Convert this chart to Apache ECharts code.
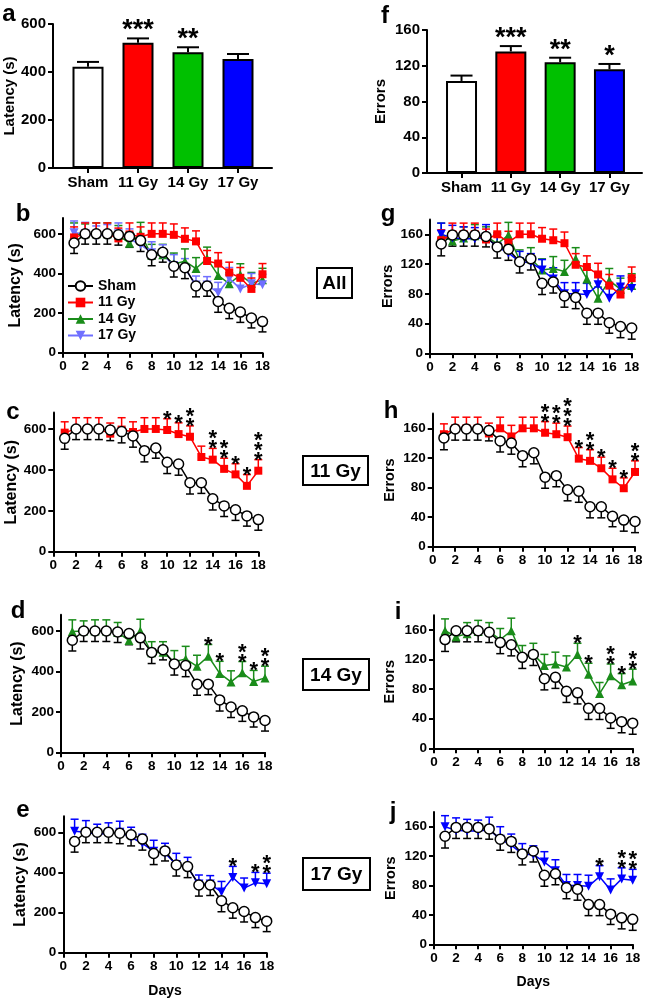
<!DOCTYPE html>
<html><head><meta charset="utf-8">
<script src="https://cdn.jsdelivr.net/npm/echarts@6/dist/echarts.min.js"></script>
<style>html,body{margin:0;padding:0;background:#fff}#c{width:660px;height:1002px}</style>
</head><body><div id="c"></div><script>
// ---------- DATA ----------
const groups = ['Sham', '11 Gy', '14 Gy', '17 Gy'];
const latencyTotal = [422, 522, 482, 454];
const latencyTotalSem = [20, 18, 21, 21];
const latencyTotalStars = ['', '***', '**', ''];
const errorsTotal = [103, 136, 124, 116];
const errorsTotalSem = [6, 6, 5, 6];
const errorsTotalStars = ['', '***', '**', '*'];

const days = [1, 2, 3, 4, 5, 6, 7, 8, 9, 10, 11, 12, 13, 14, 15, 16, 17, 18];
const latencyTicks = [0, 200, 400, 600];
const errorsTicks = [0, 40, 80, 120, 160];

const latSham = [554, 600, 600, 600, 595, 587, 566, 494, 507, 437, 429, 337, 337, 259, 224, 205, 175, 157];
const latShamSem = [53, 52, 52, 52, 52, 55, 55, 55, 50, 55, 55, 55, 52, 55, 52, 52, 50, 52];
const lat11 = [582, 600, 600, 600, 577, 597, 585, 600, 600, 595, 575, 562, 463, 450, 405, 378, 322, 396];
const lat11Sem = [53, 55, 55, 55, 52, 58, 50, 55, 55, 55, 55, 53, 53, 55, 52, 52, 55, 54];
const lat14 = [597, 600, 600, 600, 592, 553, 600, 492, 495, 448, 462, 425, 475, 390, 348, 393, 350, 368];
const lat14Sem = [58, 50, 55, 55, 50, 40, 58, 55, 52, 55, 62, 55, 58, 60, 55, 56, 55, 58];
const lat17 = [605, 600, 590, 595, 600, 575, 545, 505, 495, 440, 425, 342, 342, 303, 375, 322, 348, 343];
const lat17Sem = [60, 58, 50, 52, 55, 50, 45, 55, 50, 55, 50, 45, 42, 52, 55, 50, 52, 53];

const errSham = [147, 159, 159, 159, 157, 143, 140, 123, 127, 94, 96, 77, 75, 54, 54, 41, 36, 34];
const errShamSem = [16, 15, 15, 15, 14, 15, 15, 15, 15, 15, 15, 15, 15, 15, 15, 14, 15, 15];
const err11 = [152, 160, 160, 160, 153, 160, 149, 160, 160, 154, 152, 148, 119, 116, 106, 91, 79, 101];
const err11Sem = [14, 15, 15, 15, 14, 15, 15, 15, 15, 15, 15, 15, 15, 15, 15, 15, 14, 15];
const err14 = [159, 151, 155, 158, 158, 147, 159, 125, 127, 112, 114, 110, 127, 100, 74, 98, 86, 91];
const err14Sem = [16, 12, 15, 15, 12, 15, 17, 14, 15, 15, 16, 15, 15, 15, 15, 16, 15, 16];
const err17 = [160, 155, 154, 154, 156, 143, 135, 123, 122, 112, 100, 80, 80, 79, 92, 74, 89, 87];
const err17Sem = [15, 17, 16, 15, 17, 17, 15, 14, 12, 14, 15, 15, 15, 15, 15, 15, 15, 15];

const latStars11 = [0, 0, 0, 0, 0, 0, 0, 0, 0, 1, 1, 2, 0, 2, 2, 1, 1, 3];
const latStars14 = [0, 0, 0, 0, 0, 0, 0, 0, 0, 0, 0, 0, 1, 1, 0, 2, 1, 2];
const latStars17 = [0, 0, 0, 0, 0, 0, 0, 0, 0, 0, 0, 0, 0, 0, 1, 0, 1, 2];
const errStars11 = [0, 0, 0, 0, 0, 0, 0, 0, 0, 2, 2, 3, 1, 2, 1, 1, 1, 2];
const errStars14 = [0, 0, 0, 0, 0, 0, 0, 0, 0, 0, 0, 0, 1, 1, 0, 2, 1, 2];
const errStars17 = [0, 0, 0, 0, 0, 0, 0, 0, 0, 0, 0, 0, 0, 0, 1, 0, 2, 2];

// ---------- STYLE ----------
const FONT = 'Liberation Sans, Arial, Helvetica, sans-serif';
const barColors = ['#ffffff', '#ff0000', '#00c000', '#0000ff'];
const RED = '#ff0000', GREEN = '#1a8c1a', BLUE = '#0000ff', LBLUE = '#6f6fff';

const gridPos = [
  {left: 53, top: 24, width: 219, height: 144},      // 0 a
  {left: 427, top: 30, width: 215, height: 143},     // 1 f
  {left: 63, top: 218, width: 199.5, height: 134.7}, // 2 b
  {left: 430, top: 219.4, width: 201.7, height: 133.9}, // 3 g
  {left: 53.3, top: 412.6, width: 205, height: 139.1},  // 4 c
  {left: 432.7, top: 413.5, width: 202.3, height: 133.2}, // 5 h
  {left: 61, top: 614.8, width: 204, height: 137.5},  // 6 d
  {left: 434, top: 615.2, width: 198.7, height: 133.1}, // 7 i
  {left: 63.3, top: 816.2, width: 203.4, height: 136.5}, // 8 e
  {left: 434, top: 812, width: 198.7, height: 132.3}  // 9 j
];

const axLine = {show: true, onZero: false, lineStyle: {color: '#000', width: 2}};
const axTick = {show: true, length: 5, lineStyle: {color: '#000', width: 2}};
const lbl = (size) => ({color: '#000', fontWeight: 'bold', fontFamily: FONT, fontSize: size});

const grids = gridPos.map(g => Object.assign({containLabel: false, outerBoundsMode: 'none'}, g));
const xAxes = [], yAxes = [];
// bar panels
[0, 1].forEach(i => {
  xAxes.push({gridIndex: i, type: 'value', min: -0.7, max: i === 0 ? 3.68 : 3.66,
    axisLine: axLine, splitLine: {show: false},
    axisTick: Object.assign({}, axTick, {customValues: [0, 1, 2, 3]}),
    axisLabel: Object.assign(lbl(15), {customValues: [0, 1, 2, 3], margin: 7, formatter: v => groups[v]})});
  yAxes.push({gridIndex: i, type: 'value', min: 0, max: i === 0 ? 600 : 160, interval: i === 0 ? 200 : 40,
    name: i === 0 ? 'Latency (s)' : 'Errors', nameLocation: 'middle', nameGap: i === 0 ? 36 : 39,
    nameTextStyle: lbl(15), axisLine: axLine, axisTick: axTick, splitLine: {show: false},
    axisLabel: Object.assign(lbl(15), {margin: 7})});
});
// line panels
const nameGaps = {2: 39, 3: 35, 4: 33, 5: 35, 6: 35, 7: 37, 8: 35, 9: 36};
for (let i = 2; i < 10; i++) {
  const isLat = i % 2 === 0;
  const xa = {gridIndex: i, type: 'value', min: 0, max: 18, interval: 2,
    axisLine: axLine, axisTick: axTick, splitLine: {show: false},
    axisLabel: Object.assign(lbl(13.5), {margin: 7})};
  if (i >= 8) Object.assign(xa, {name: 'Days', nameLocation: 'middle', nameGap: 31, nameTextStyle: lbl(14)});
  xAxes.push(xa);
  const ticks = isLat ? latencyTicks : errorsTicks;
  yAxes.push({gridIndex: i, type: 'value', min: 0, max: isLat ? 680 : 180,
    name: isLat ? 'Latency (s)' : 'Errors', nameLocation: 'middle', nameGap: nameGaps[i],
    nameTextStyle: lbl(isLat ? 16 : 14.5), axisLine: axLine, splitLine: {show: false},
    axisTick: Object.assign({}, axTick, {customValues: ticks}),
    axisLabel: Object.assign(lbl(13.5), {margin: 7, customValues: ticks})});
}

const series = [];
// bar panels
function barPanel(gi, mean, sem, stars) {
  series.push({type: 'bar', name: 'bars' + gi, xAxisIndex: gi, yAxisIndex: gi, barWidth: 31,
    data: mean.map((v, k) => ({value: [k, v], itemStyle: {color: barColors[k], borderColor: '#000', borderWidth: 2}})),
    z: 2});
  series.push({type: 'custom', name: 'barerr' + gi, xAxisIndex: gi, yAxisIndex: gi, clip: false, z: 1,
    data: mean.map((v, k) => [k, v, sem[k]]),
    renderItem: (p, api) => {
      const a = api.coord([api.value(0), api.value(1)]);
      const b = api.coord([api.value(0), api.value(1) + api.value(2)]);
      const st = {stroke: '#000', lineWidth: 2};
      return {type: 'group', children: [
        {type: 'line', shape: {x1: a[0], y1: a[1], x2: b[0], y2: b[1]}, style: st},
        {type: 'line', shape: {x1: b[0] - 11, y1: b[1], x2: b[0] + 11, y2: b[1]}, style: st}]};
    }});
  series.push({type: 'custom', name: 'barstars' + gi, xAxisIndex: gi, yAxisIndex: gi, clip: false, z: 3,
    data: mean.map((v, k) => [k, v + sem[k]]),
    renderItem: (p, api) => {
      const b = api.coord([api.value(0), api.value(1)]);
      return {type: 'text', style: {text: stars[p.dataIndex], x: b[0], y: b[1] + 6, align: 'center', verticalAlign: 'bottom',
        font: 'bold 27px ' + FONT, fill: '#000'}};
    }});
}
barPanel(0, latencyTotal, latencyTotalSem, latencyTotalStars);
barPanel(1, errorsTotal, errorsTotalSem, errorsTotalStars);

const sym = {
  'Sham': {symbol: 'circle', size: 10},
  '11 Gy': {symbol: 'rect', size: 8},
  '14 Gy': {symbol: 'triangle', size: 9},
  '17 Gy': {symbol: 'triangle', size: 9, rotate: 180}
};
function addLine(gi, name, color, mean, sem, dir, stars) {
  const s = sym[name];
  series.push({type: 'custom', name: name + ' SEM', xAxisIndex: gi, yAxisIndex: gi, clip: false,
    data: days.map((d, k) => [d, mean[k], sem[k]]),
    renderItem: (p, api) => {
      const a = api.coord([api.value(0), api.value(1)]);
      const b = api.coord([api.value(0), api.value(1) + dir * api.value(2)]);
      const st = {stroke: color, lineWidth: 1.5};
      return {type: 'group', children: [
        {type: 'line', shape: {x1: a[0], y1: a[1], x2: b[0], y2: b[1]}, style: st},
        {type: 'line', shape: {x1: b[0] - 4, y1: b[1], x2: b[0] + 4, y2: b[1]}, style: st}]};
    }});
  const isSham = name === 'Sham';
  series.push({type: 'line', name: name, xAxisIndex: gi, yAxisIndex: gi,
    data: days.map((d, k) => [d, mean[k]]),
    symbol: s.symbol, symbolSize: s.size, symbolRotate: s.rotate || 0, showSymbol: true,
    lineStyle: {color: color, width: 1.5},
    itemStyle: isSham ? {color: '#fff', borderColor: '#000', borderWidth: 1.5} : {color: color, borderWidth: 0},
    emphasis: {disabled: true}});
  if (stars) {
    series.push({type: 'custom', name: name + ' stars', xAxisIndex: gi, yAxisIndex: gi, clip: false, z: 5,
      data: days.map((d, k) => [d, mean[k] + sem[k], stars[k]]),
      renderItem: (p, api) => {
        const n = api.value(2);
        const b = api.coord([api.value(0), api.value(1)]);
        const ch = [];
        for (let q = 0; q < n; q++) {
          ch.push({type: 'text', style: {text: '*', x: b[0], y: b[1] + 1 - q * 10, align: 'center', verticalAlign: 'middle',
            font: 'bold 22px ' + FONT, fill: '#000'}});
        }
        return {type: 'group', children: ch};
      }});
  }
}
// b (All latency)
addLine(2, '14 Gy', GREEN, lat14, lat14Sem, 1);
addLine(2, '17 Gy', LBLUE, lat17, lat17Sem, 1);
addLine(2, '11 Gy', RED, lat11, lat11Sem, 1);
addLine(2, 'Sham', '#000', latSham, latShamSem, -1);
// g (All errors)
addLine(3, '14 Gy', GREEN, err14, err14Sem, 1);
addLine(3, '17 Gy', BLUE, err17, err17Sem, 1);
addLine(3, '11 Gy', RED, err11, err11Sem, 1);
addLine(3, 'Sham', '#000', errSham, errShamSem, -1);
// c, h
addLine(4, '11 Gy', RED, lat11, lat11Sem, 1, latStars11);
addLine(4, 'Sham', '#000', latSham, latShamSem, -1);
addLine(5, '11 Gy', RED, err11, err11Sem, 1, errStars11);
addLine(5, 'Sham', '#000', errSham, errShamSem, -1);
// d, i
addLine(6, '14 Gy', GREEN, lat14, lat14Sem, 1, latStars14);
addLine(6, 'Sham', '#000', latSham, latShamSem, -1);
addLine(7, '14 Gy', GREEN, err14, err14Sem, 1, errStars14);
addLine(7, 'Sham', '#000', errSham, errShamSem, -1);
// e, j
addLine(8, '17 Gy', BLUE, lat17, lat17Sem, 1, latStars17);
addLine(8, 'Sham', '#000', latSham, latShamSem, -1);
addLine(9, '17 Gy', BLUE, err17, err17Sem, 1, errStars17);
addLine(9, 'Sham', '#000', errSham, errShamSem, -1);

// legend (the first series carrying each name are the panel-b ones)
const legend = {data: groups, orient: 'vertical', left: 67, top: 279, itemWidth: 25, itemHeight: 12, itemGap: 2.5,
  selectedMode: false, textStyle: lbl(14), padding: 0};

function box(text, x, y, w, h) {
  return {type: 'group', children: [
    {type: 'rect', shape: {x: x, y: y, width: w, height: h}, style: {fill: '#fff', stroke: '#000', lineWidth: 2}},
    {type: 'text', style: {text: text, x: x + w / 2, y: y + h / 2 + 1, align: 'center', verticalAlign: 'middle',
      font: 'bold 19px ' + FONT, fill: '#000'}}]};
}
function letter(t, x, y) {
  return {type: 'text', style: {text: t, x: x, y: y, align: 'center', verticalAlign: 'middle', font: 'bold 24px ' + FONT, fill: '#000'}};
}
const graphic = [
  box('All', 317, 268, 35, 30),
  box('11 Gy', 303, 456, 65, 29),
  box('14 Gy', 303, 659, 66, 31),
  box('17 Gy', 303, 858, 67, 32),
  letter('a', 9, 14), letter('b', 23, 214), letter('c', 13, 412), letter('d', 18, 611), letter('e', 23, 810),
  letter('f', 385, 16), letter('g', 388, 214), letter('h', 391, 411), letter('i', 398, 612), letter('j', 393, 812)
];

const chart = echarts.init(document.getElementById('c'), null, {renderer: 'canvas'});
chart.setOption({animation: false, backgroundColor: '#fff', grid: grids, xAxis: xAxes, yAxis: yAxes,
  series: series, legend: legend, graphic: graphic});
</script></body></html>
